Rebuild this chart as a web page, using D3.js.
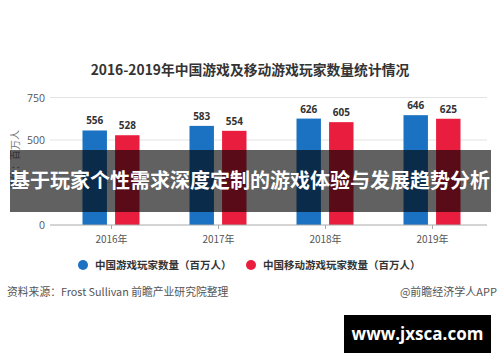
<!DOCTYPE html>
<html>
<head>
<meta charset="utf-8">
<script src="https://cdn.jsdelivr.net/npm/d3@7"></script>
<style>
  body { margin: 0; background: #fff; }
  svg { display: block; font-family: "Noto Sans CJK SC", "Noto Sans", sans-serif; }
</style>
</head>
<body>
<div id="chart"></div>
<script>
var years = ["2016年", "2017年", "2018年", "2019年"];
var seriesNames = ["中国游戏玩家数量（百万人）", "中国移动游戏玩家数量（百万人）"];
var gamePlayers = [556, 583, 626, 646];
var mobilePlayers = [528, 554, 605, 625];
var yTicks = [0, 250, 500, 750];
var colors = ["#1b72c2", "#e91e3e"];

var width = 500,
    height = 362;

var svg = d3.select("#chart").append("svg")
    .attr("width", width)
    .attr("height", height);

svg.append("rect").attr("width", width).attr("height", height).attr("fill", "#fff");

// title
svg.append("text")
    .attr("x", 250).attr("y", 75)
    .attr("text-anchor", "middle")
    .attr("font-size", 13.8).attr("font-weight", "bold").attr("fill", "#333")
    .text("2016-2019年中国游戏及移动游戏玩家数量统计情况");

var x = d3.scaleBand().domain(years).range([58, 486]);
var y = d3.scaleLinear().domain([0, 750]).range([225, 97.5]);

// grid
svg.append("g").selectAll("line")
    .data(yTicks.slice(1))
    .join("line")
      .attr("x1", 50).attr("x2", 487)
      .attr("y1", d => y(d)).attr("y2", d => y(d))
      .attr("stroke", "#e3e3e3");

// the 250 label sits under the banner in the original, so it is not drawn
svg.append("g").selectAll("text")
    .data(yTicks.filter(d => d !== 250))
    .join("text")
      .attr("x", 45).attr("y", d => y(d) + 4)
      .attr("text-anchor", "end")
      .attr("font-size", 10.5).attr("fill", "#555")
      .attr("font-family", "Open Sans, sans-serif")
      .text(d => d);

// y axis title
svg.append("text")
    .attr("transform", "translate(19,160) rotate(-90)")
    .attr("text-anchor", "middle")
    .attr("font-size", 10).attr("fill", "#777")
    .text("单位：百万人");

// bars
var rows = years.map((yr, i) => ({ yr: yr, v: [gamePlayers[i], mobilePlayers[i]] }));
var inner = d3.scaleBand().domain([0, 1]).range([-29, 28]).paddingInner(0.25);

var grp = svg.append("g").selectAll("g")
    .data(rows)
    .join("g")
      .attr("transform", d => "translate(" + (x(d.yr) + x.bandwidth() / 2) + ",0)");

grp.selectAll("rect")
    .data(d => d.v)
    .join("rect")
      .attr("x", (d, i) => inner(i))
      .attr("width", inner.bandwidth())
      .attr("y", d => y(d))
      .attr("height", d => y(0) - y(d))
      .attr("fill", (d, i) => colors[i]);

grp.selectAll("text")
    .data(d => d.v)
    .join("text")
      .attr("x", (d, i) => inner(i) + inner.bandwidth() / 2)
      .attr("y", d => y(d) - 6)
      .attr("text-anchor", "middle")
      .attr("font-size", 10).attr("font-weight", "bold").attr("fill", "#333")
      .attr("font-family", "Open Sans, sans-serif")
      .text(d => d);

// x axis
var xAxis = svg.append("g")
    .attr("transform", "translate(0," + y(0) + ")");
xAxis.append("line").attr("x1", 50).attr("x2", 487).attr("stroke", "#aaa");
xAxis.selectAll("line.tick")
    .data(years)
    .join("line")
      .attr("class", "tick")
      .attr("x1", d => x(d) + x.bandwidth() / 2).attr("x2", d => x(d) + x.bandwidth() / 2)
      .attr("y1", 0).attr("y2", 4)
      .attr("stroke", "#aaa");
xAxis.selectAll("text")
    .data(years)
    .join("text")
      .attr("x", d => x(d) + x.bandwidth() / 2)
      .attr("y", 18)
      .attr("text-anchor", "middle")
      .attr("font-size", 10).attr("fill", "#555")
      .text(d => d);

// legend
var legend = svg.append("g").selectAll("g")
    .data(seriesNames)
    .join("g")
      .attr("transform", (d, i) => "translate(" + [83, 251][i] + ",265)");
legend.append("circle").attr("r", 5).attr("fill", (d, i) => colors[i]);
legend.append("text")
    .attr("x", 12).attr("y", 4)
    .attr("font-size", 10.5).attr("font-weight", "bold").attr("fill", "#333")
    .text(d => d);

// source
svg.append("text")
    .attr("x", 7).attr("y", 296)
    .attr("font-size", 10.8).attr("fill", "#555")
    .text("资料来源：Frost Sullivan 前瞻产业研究院整理");
svg.append("text")
    .attr("x", 497).attr("y", 296)
    .attr("text-anchor", "end")
    .attr("font-size", 11).attr("fill", "#555")
    .text("@前瞻经济学人APP");

// banner
svg.append("rect")
    .attr("x", 10).attr("y", 150).attr("width", 481).attr("height", 62)
    .attr("fill", "#000").attr("opacity", 0.62);
svg.append("text")
    .attr("x", 250).attr("y", 188)
    .attr("text-anchor", "middle")
    .attr("font-size", 20).attr("font-weight", "bold").attr("fill", "#fff")
    .text("基于玩家个性需求深度定制的游戏体验与发展趋势分析");

// site box
svg.append("rect")
    .attr("x", 344).attr("y", 315).attr("width", 147).attr("height", 38)
    .attr("fill", "#000");
svg.append("text")
    .attr("x", 417.5).attr("y", 340)
    .attr("text-anchor", "middle")
    .attr("font-size", 17).attr("font-weight", "bold").attr("fill", "#fff")
    .attr("font-family", "Open Sans, sans-serif")
    .text("www.jxsca.com");
</script>
</body>
</html>
